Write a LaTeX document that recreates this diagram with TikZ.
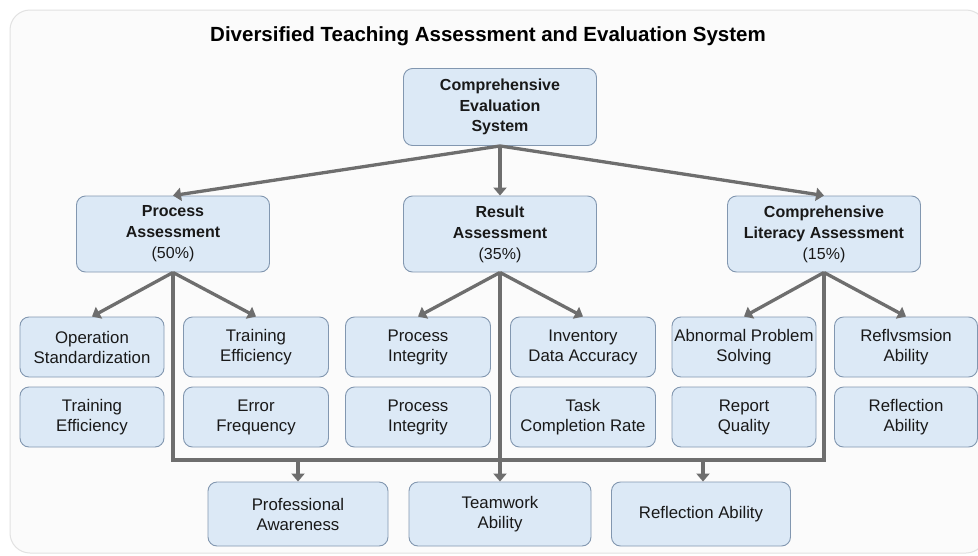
\documentclass[tikz,border=0pt]{standalone}
\usepackage{fontspec}
\setmainfont{Liberation Sans}
\usetikzlibrary{arrows.meta}
\definecolor{boxfill}{HTML}{DCE9F6}
\definecolor{boxline}{HTML}{8297B0}
\definecolor{conncol}{HTML}{6E6E6E}
\definecolor{framecol}{HTML}{E2E2E2}
\definecolor{bgcol}{HTML}{FBFBFB}
\begin{document}
\begin{tikzpicture}[x=1pt,y=-1pt,
  box/.style={draw=boxline, fill=boxfill, rounded corners=9pt, line width=0.9pt,
    align=center, inner sep=0pt, text=black!90,
    font=\fontsize{16.8}{20}\selectfont},
  leaf/.style={box, minimum width=145pt, minimum height=60pt},
  head/.style={box, minimum width=193pt, minimum height=76pt,
    font=\bfseries\fontsize{16}{21}\selectfont},
  bottom/.style={box, minimum width=180pt, minimum height=64pt},
  conn/.style={draw=conncol, line width=3.3pt},
  arr/.style={conn, -{Triangle[width=13pt,length=8pt]}}]
\useasboundingbox (0,0) rectangle (978,555);
\fill[white] (0,0) rectangle (978,555);
\draw[framecol, fill=bgcol, line width=1pt, rounded corners=20pt] (10,10) rectangle (986,553);

\node[font=\bfseries\fontsize{20.5}{24}\selectfont] (title) at (488,36)
  {Diversified Teaching Assessment and Evaluation System};

% heads
\node[head, minimum height=77pt, font=\bfseries\fontsize{16}{20.5}\selectfont] (top) at (500,107) {Comprehensive\\Evaluation\\System};
\node[head] (pa) at (173,234) {Process\\Assessment\\\mdseries(50\%)};
\node[head] (ra) at (500,234) {Result\\Assessment\\\mdseries(35\%)};
\node[head] (la) at (824,234) {Comprehensive\\Literacy Assessment\\\mdseries(15\%)};

% leaves
\node[leaf, minimum width=144pt] (op)  at (92,347)  {Operation\\Standardization};
\node[leaf, minimum width=144pt] (te2) at (92,417)  {Training\\Efficiency};
\node[leaf] (te1) at (256,347) {Training\\Efficiency};
\node[leaf] (ef)  at (256,417) {Error\\Frequency};
\node[leaf] (pi1) at (418,347) {Process\\Integrity};
\node[leaf] (pi2) at (418,417) {Process\\Integrity};
\node[leaf] (inv) at (583,347) {Inventory\\Data Accuracy};
\node[leaf] (tcr) at (583,417) {Task\\Completion Rate};
\node[leaf, minimum width=144pt] (abn) at (744,347) {Abnormal Problem\\Solving};
\node[leaf, minimum width=144pt] (rq)  at (744,417) {Report\\Quality};
\node[leaf, minimum width=143pt] (rf1) at (906,347) {Reflvsmsion\\Ability};
\node[leaf, minimum width=143pt] (rf2) at (906,417) {Reflection\\Ability};

% bottom
\node[bottom] (pro) at (298,514) {Professional\\Awareness};
\node[bottom, minimum width=182pt] (tw) at (500,514) {Teamwork\\Ability};
\node[bottom, minimum width=179pt] (rfa) at (701,514) {Reflection Ability};

\coordinate (bus) at (0,460);

% connectors from top
\draw[arr] (top.south) -- (pa.north);
\draw[arr] (top.south) -- (ra.north);
\draw[arr] (top.south) -- (la.north);

% to leaves
\draw[arr] (pa.south) -- (op.north);
\draw[arr] (pa.south) -- (te1.north);
\draw[arr] (ra.south) -- (pi1.north);
\draw[arr] (ra.south) -- (inv.north);
\draw[arr] (la.south) -- (abn.north);
\draw[arr] (la.south) -- (rf1.north);

% bus
\draw[conn, line join=miter] (pa.south) -- (pa.south |- bus) -- (la.south |- bus) -- (la.south);
\draw[arr] (ra.south) -- (tw.north);
\draw[arr] (pro.north |- bus) -- (pro.north);
\draw[arr] ([xshift=2pt]rfa.north |- bus) -- ([xshift=2pt]rfa.north);
\end{tikzpicture}
\end{document}
